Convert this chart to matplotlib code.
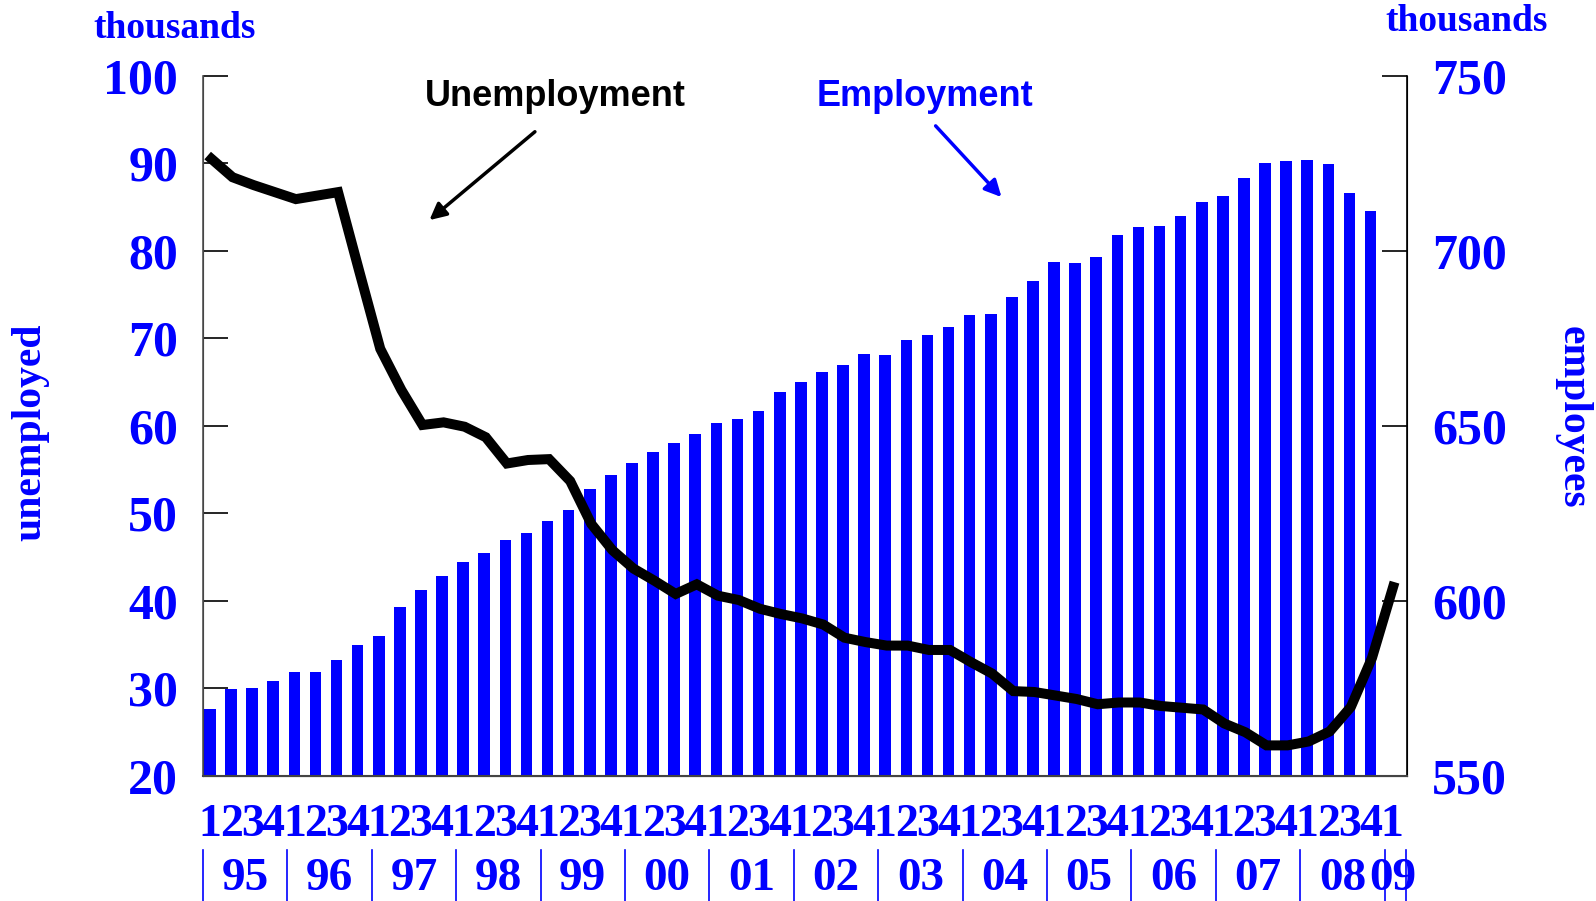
import numpy as np
import matplotlib
matplotlib.use("Agg")
import matplotlib.pyplot as plt
import matplotlib.transforms as mtransforms

# quarterly data, 1995Q1 .. 2009Q1
quarter_labels = list("1234" * 14) + ["1"]
year_labels = ["95", "96", "97", "98", "99", "00", "01", "02", "03", "04",
               "05", "06", "07", "08", "09"]

# employees, thousands (1995Q1 .. 2008Q4)
employment = [569.2, 574.8, 575.1, 577.2, 579.7, 579.7, 583.0, 587.5, 590.0, 598.4,
              603.0, 607.0, 611.0, 613.7, 617.3, 619.5, 622.8, 626.0, 632.0, 636.0,
              639.5, 642.5, 645.2, 647.7, 650.7, 652.0, 654.2, 659.6, 662.6, 665.5,
              667.4, 670.5, 670.3, 674.5, 675.9, 678.2, 681.6, 681.9, 686.7, 691.3,
              696.8, 696.6, 698.1, 704.6, 706.9, 707.1, 709.9, 713.8, 715.7, 720.8,
              725.2, 725.5, 725.8, 724.9, 716.6, 711.3]

# unemployed, thousands (1995Q1 .. 2009Q1)
unemployment = [90.5, 88.4, 87.5, 86.7, 85.9, 86.3, 86.7, 77.7, 68.8, 64.1,
                60.1, 60.4, 59.9, 58.7, 55.7, 56.1, 56.2, 53.7, 48.8, 45.8,
                43.7, 42.3, 40.8, 41.9, 40.6, 40.1, 39.1, 38.5, 38.0, 37.3,
                35.8, 35.3, 34.9, 34.9, 34.4, 34.4, 33.0, 31.7, 29.7, 29.6,
                29.2, 28.8, 28.2, 28.4, 28.4, 28.0, 27.8, 27.6, 26.0, 25.0,
                23.5, 23.5, 23.95, 25.1, 27.9, 33.5, 41.6]

BLUE = "#0000ff"
SERIF = "Liberation Serif"
SANS = "Liberation Sans"

fig = plt.figure(figsize=(15.96, 9.01), dpi=100)
ax = fig.add_axes([0.1272, 0.1387, 0.7544, 0.7773])
ax2 = ax.twinx()
ax.set_zorder(ax2.get_zorder() + 1)
ax.patch.set_visible(False)

xb = np.arange(len(employment))
xl = np.arange(len(unemployment)) + 0.07
ax2.bar(xb, np.array(employment) - 550, bottom=550, width=0.55, color=BLUE, zorder=2)
ax.plot(xl, unemployment, color="black", lw=7.2, solid_joinstyle="miter", zorder=3)

ax.set_xlim(-0.33, 56.73)
ax.set_ylim(20, 100)
ax2.set_ylim(550, 750)

ax.set_yticks(np.arange(20, 101, 10))
ax2.set_yticks(np.arange(550, 751, 50))
for a in (ax, ax2):
    a.tick_params(axis="y", direction="in", length=18, width=1.2, pad=18,
                  labelsize=36, labelcolor=BLUE)
    for lab in a.get_yticklabels():
        lab.set_fontfamily(SERIF)
        lab.set_fontweight("bold")
    a.spines["top"].set_visible(False)

ax.spines["left"].set_color("#555555")
ax.spines["left"].set_linewidth(1.2)
ax2.spines["right"].set_color("black")
ax2.spines["right"].set_linewidth(1.2)
ax.spines["bottom"].set_color("#444444")
ax.spines["bottom"].set_linewidth(1.5)

ax.set_xticks(np.arange(len(quarter_labels)))
ax.set_xticklabels(quarter_labels, fontfamily=SERIF, fontweight="bold",
                   fontsize=33, color=BLUE)
ax.tick_params(axis="x", length=0, pad=20)

trans = mtransforms.blended_transform_factory(ax.transData, ax.transAxes)
n_q = len(quarter_labels)
for k, yr in enumerate(year_labels):
    start = 4 * k - 0.33
    end = min(start + 4, n_q - 0.33)
    ax.plot([start, start], [-0.106, -0.18], color=BLUE, lw=1.2,
            transform=trans, clip_on=False)
    ax.text((start + end) / 2 - (0.1 if k == len(year_labels) - 1 else 0), -0.1475, yr,
            transform=trans, ha="center", va="center", color=BLUE,
            fontfamily=SERIF, fontweight="bold", fontsize=34)
ax.plot([n_q - 0.33, n_q - 0.33], [-0.106, -0.18], color=BLUE, lw=1.2,
        transform=trans, clip_on=False)

fig.text(0.1096, 0.968, "thousands", ha="center", va="center", color=BLUE,
         fontfamily=SERIF, fontweight="bold", fontsize=27)
fig.text(0.919, 0.976, "thousands", ha="center", va="center", color=BLUE,
         fontfamily=SERIF, fontweight="bold", fontsize=27)
fig.text(0.019, 0.52, "unemployed", rotation=90, ha="center", va="center",
         color=BLUE, fontfamily=SERIF, fontweight="bold", fontsize=30)
fig.text(0.9855, 0.537, "employees", rotation=270, ha="center", va="center",
         color=BLUE, fontfamily=SERIF, fontweight="bold", fontsize=30)

ax.text(16.35, 97.6, "Unemployment", ha="center", va="center", color="black",
        fontfamily=SANS, fontweight="bold", fontsize=26)
ax.annotate("", xy=(10.3, 83.3), xytext=(15.5, 93.8),
            arrowprops=dict(arrowstyle="-|>", color="black", lw=2.5, mutation_scale=25))
ax.text(33.9, 97.6, "Employment", ha="center", va="center", color=BLUE,
        fontfamily=SANS, fontweight="bold", fontsize=26)
ax.annotate("", xy=(37.6, 85.9), xytext=(34.3, 94.5),
            arrowprops=dict(arrowstyle="-|>", color=BLUE, lw=2.5, mutation_scale=25))

fig.savefig("out.png", dpi=100)
